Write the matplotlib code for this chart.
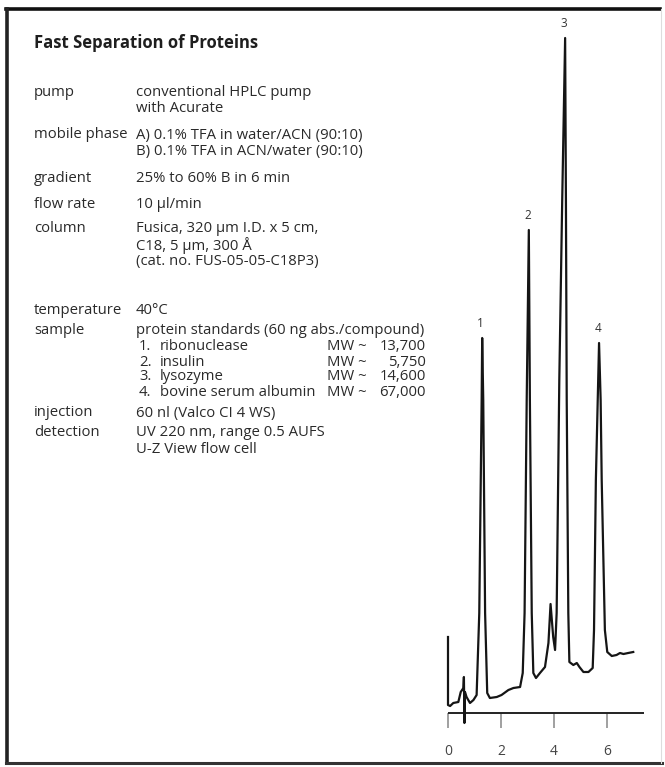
import matplotlib.pyplot as plt
from matplotlib.lines import Line2D

plt.rcParams['font.family'] = ['Open Sans', 'DejaVu Sans']

W, H = 665, 767

# chromatogram trace, time in min, detector signal in arbitrary units
time_min = [0.00, 0.00, 0.08, 0.20, 0.39, 0.48, 0.58, 0.60, 0.62, 0.64, 0.70,
            0.83, 0.96, 1.08, 1.18, 1.27, 1.29, 1.33, 1.40, 1.48, 1.58, 1.84,
            2.02, 2.28, 2.47, 2.72, 2.82, 2.89, 2.97, 3.05, 3.09, 3.16, 3.22,
            3.32, 3.47, 3.66, 3.79, 3.87, 3.97, 4.04, 4.10, 4.20, 4.31, 4.42,
            4.45, 4.48, 4.54, 4.58, 4.73, 4.86, 4.96, 5.11, 5.30, 5.46, 5.51,
            5.58, 5.65, 5.70, 5.76, 5.80, 5.92, 6.01, 6.18, 6.36, 6.49, 6.62,
            6.80, 6.99]
signal = [76, 8, 7, 10, 11, 21, 25, 36, -10, 21, 16,
          10, 13, 18, 100, 313, 375, 313, 100, 20, 15, 16,
          18, 23, 25, 26, 40, 100, 313, 483, 313, 100, 40,
          35, 40, 46, 70, 109, 76, 63, 100, 333, 513, 675,
          513, 313, 100, 51, 48, 50, 46, 41, 41, 45, 83,
          233, 313, 370, 313, 233, 83, 61, 57, 58, 60, 59,
          60, 61]

peak_labels = ['1', '2', '3', '4']
peak_times = [1.29, 3.05, 4.42, 5.70]
peak_heights = [375, 483, 675, 370]
x_ticks = [0, 2, 4, 6]

title = 'Fast Separation of Proteins'
conditions = [
    ('pump', ['conventional HPLC pump', 'with Acurate']),
    ('mobile phase', ['A) 0.1% TFA in water/ACN (90:10)',
                      'B) 0.1% TFA in ACN/water (90:10)']),
    ('gradient', ['25% to 60% B in 6 min']),
    ('flow rate', ['10 µl/min']),
    ('column', ['Fusica, 320 µm I.D. x 5 cm,', 'C18, 5 µm, 300 Å',
                '(cat. no. FUS-05-05-C18P3)']),
    ('temperature', ['40°C']),
    ('sample', ['protein standards (60 ng abs./compound)']),
]
proteins = ['ribonuclease', 'insulin', 'lysozyme', 'bovine serum albumin']
mol_weights = ['13,700', '5,750', '14,600', '67,000']
conditions_after = [
    ('injection', ['60 nl (Valco CI 4 WS)']),
    ('detection', ['UV 220 nm, range 0.5 AUFS', 'U-Z View flow cell']),
]

fig = plt.figure(figsize=(W / 100, H / 100), dpi=100)
fig.patch.set_facecolor('white')


def fx(px):
    return px / W


def fy(py):
    return 1 - py / H


txt = '#2a2a2a'
fs = 10.7

# border of the panel
fig.add_artist(Line2D([fx(6), fx(660)], [fy(9), fy(9)], color='#111', lw=2.6))
fig.add_artist(Line2D([fx(7), fx(7)], [fy(9), fy(763)], color='#222', lw=2.6))
fig.add_artist(Line2D([fx(6), fx(662)], [fy(763), fy(763)], color='#333', lw=2.2))
fig.add_artist(Line2D([fx(661), fx(661)], [fy(9), fy(763)], color='#ddd', lw=0.8))

fig.text(fx(34), fy(43), title, fontsize=12, fontweight='bold', color='#1e1e1e',
         va='center', ha='left')

label_x, value_x = 34, 136
row_y = [93, 135, 179, 204, 229, 311, 331]
line_gap = 16
for (lab, vals), y in zip(conditions, row_y):
    fig.text(fx(label_x), fy(y), lab, fontsize=fs, color=txt, va='center')
    for k, v in enumerate(vals):
        fig.text(fx(value_x), fy(y + k * line_gap), v, fontsize=fs, color=txt,
                 va='center')

item_y = [347, 362, 377, 392]
for i, (name, mw, y) in enumerate(zip(proteins, mol_weights, item_y)):
    fig.text(fx(value_x + 3), fy(y), f'{i + 1}.', fontsize=fs, color=txt, va='center')
    fig.text(fx(value_x + 24), fy(y), name, fontsize=fs, color=txt, va='center')
    fig.text(fx(327), fy(y), 'MW ~', fontsize=fs, color=txt, va='center')
    fig.text(fx(426), fy(y), mw, fontsize=fs, color=txt, va='center', ha='right')

for (lab, vals), y in zip(conditions_after, [413, 433]):
    fig.text(fx(label_x), fy(y), lab, fontsize=fs, color=txt, va='center')
    for k, v in enumerate(vals):
        fig.text(fx(value_x), fy(y + k * line_gap), v, fontsize=fs, color=txt,
                 va='center')

# chromatogram axes: 26.5 px per minute, t=0 at x=448, baseline at y=713
ax = fig.add_axes([fx(440), fy(713), fx(660) - fx(440), fy(20) - fy(713)])
ax.set_xlim(-8 / 26.5, 212 / 26.5)
ax.set_ylim(0, 693)
ax.patch.set_alpha(0)
for sp in ax.spines.values():
    sp.set_visible(False)
ax.set_yticks([])

ax.hlines(0, 0, 7.4, color='#222', lw=1.4, clip_on=False)
ax.plot(time_min, signal, color='#151515', lw=1.6, clip_on=False,
        solid_joinstyle='round')

ax.set_xticks(x_ticks)
ax.set_xticklabels([str(t) for t in x_ticks])
ax.tick_params(axis='x', direction='out', length=11, width=1.3, color='#999',
               labelsize=10, labelcolor='#444', pad=11)
ax.get_xticklines()[-2].set_color('#222')

for lab, t, h in zip(peak_labels, peak_times, peak_heights):
    ax.annotate(lab, (t, h), xytext=(-1, 6), textcoords='offset points',
                ha='center', va='bottom', fontsize=8.5, color='#333')

fig.savefig('out.png', dpi=100)
